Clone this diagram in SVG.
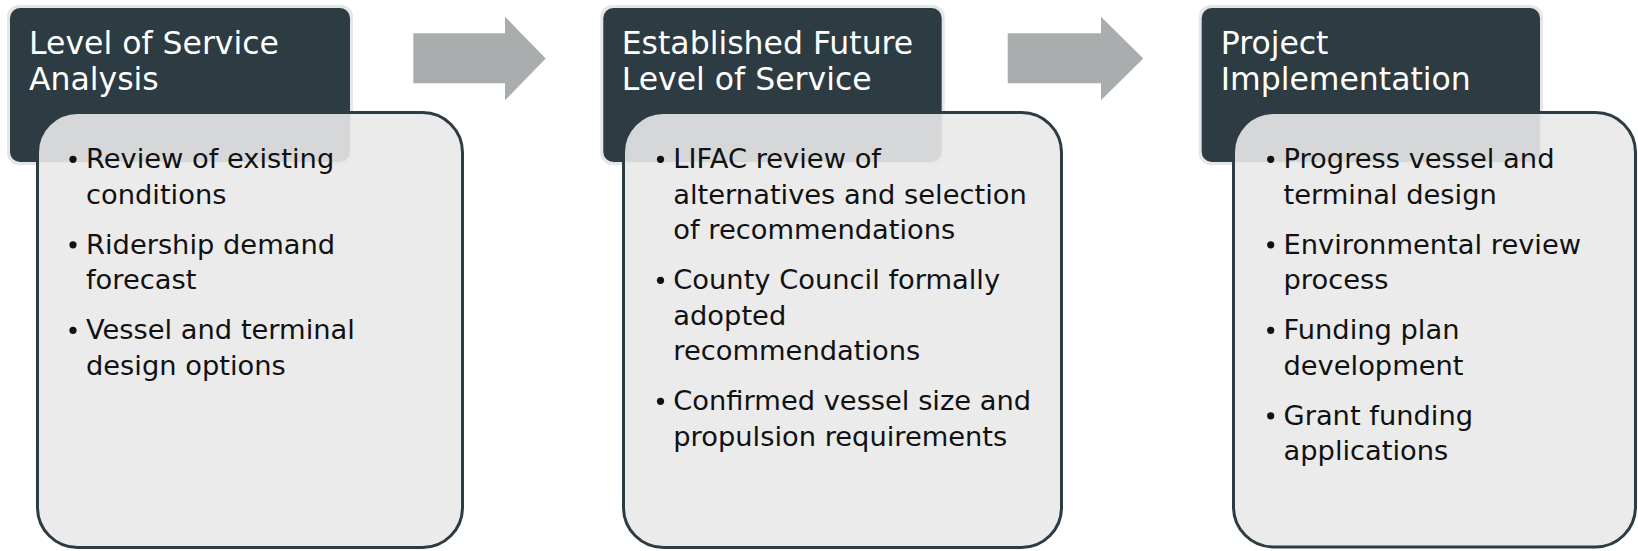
<svg xmlns="http://www.w3.org/2000/svg" width="1638" height="551" viewBox="0 0 1638 551">
  <style>
    .halo { fill: #e4e6e7; }
    .head { fill: #2d3b42; }
    .htxt { fill: #ffffff; font-family: "DejaVu Sans", "Liberation Sans", sans-serif; font-size: 31.5px; }
    .body { fill: #e9e9e9; fill-opacity: 0.9; stroke: #2d3b42; stroke-width: 3; }
    .btxt { fill: #111111; font-family: "DejaVu Sans", "Liberation Sans", sans-serif; font-size: 27.3px; }
    .dot { fill: #111111; }
    .arrow { fill: #aaadae; }
  </style>
  <rect width="1638" height="551" fill="#ffffff"/>

  <g id="node1">
    <rect class="halo" x="7" y="5" width="346" height="160" rx="12"/>
    <rect class="head" x="10" y="8" width="340" height="154" rx="10"/>
    <text class="htxt" x="29" y="54">Level of Service</text>
    <text class="htxt" x="29" y="90">Analysis</text>
    <rect class="body" x="37.5" y="112.5" width="425" height="435" rx="40"/>
    <circle class="dot" cx="73" cy="159.3" r="3.6"/>
    <text class="btxt" x="86" y="168">Review of existing</text>
    <text class="btxt" x="86" y="203.5">conditions</text>
    <circle class="dot" cx="73" cy="244.8" r="3.6"/>
    <text class="btxt" x="86" y="253.5">Ridership demand</text>
    <text class="btxt" x="86" y="289">forecast</text>
    <circle class="dot" cx="73" cy="330.3" r="3.6"/>
    <text class="btxt" x="86" y="339">Vessel and terminal</text>
    <text class="btxt" x="86" y="374.5">design options</text>
  </g>

  <g id="node2">
    <rect class="halo" x="600.3" y="5" width="344.4" height="160" rx="12"/>
    <rect class="head" x="603.3" y="8" width="338.4" height="154" rx="10"/>
    <text class="htxt" x="621.7" y="54">Established Future</text>
    <text class="htxt" x="621.7" y="90">Level of Service</text>
    <rect class="body" x="623.5" y="112.5" width="438" height="435" rx="40"/>
    <circle class="dot" cx="660.5" cy="159.3" r="3.6"/>
    <text class="btxt" x="673.3" y="168">LIFAC review of</text>
    <text class="btxt" x="673.3" y="203.5">alternatives and selection</text>
    <text class="btxt" x="673.3" y="239">of recommendations</text>
    <circle class="dot" cx="660.5" cy="280.3" r="3.6"/>
    <text class="btxt" x="673.3" y="289">County Council formally</text>
    <text class="btxt" x="673.3" y="324.5">adopted</text>
    <text class="btxt" x="673.3" y="360">recommendations</text>
    <circle class="dot" cx="660.5" cy="401.3" r="3.6"/>
    <text class="btxt" x="673.3" y="410">Confirmed vessel size and</text>
    <text class="btxt" x="673.3" y="445.5">propulsion requirements</text>
  </g>

  <g id="node3">
    <rect class="halo" x="1198.7" y="5" width="344.3" height="160" rx="12"/>
    <rect class="head" x="1201.7" y="8" width="338.3" height="154" rx="10"/>
    <text class="htxt" x="1220.7" y="54">Project</text>
    <text class="htxt" x="1220.7" y="90">Implementation</text>
    <rect class="body" x="1233.5" y="112.5" width="402" height="434.5" rx="40"/>
    <circle class="dot" cx="1270.7" cy="159.3" r="3.6"/>
    <text class="btxt" x="1283.5" y="168">Progress vessel and</text>
    <text class="btxt" x="1283.5" y="203.5">terminal design</text>
    <circle class="dot" cx="1270.7" cy="244.8" r="3.6"/>
    <text class="btxt" x="1283.5" y="253.5">Environmental review</text>
    <text class="btxt" x="1283.5" y="289">process</text>
    <circle class="dot" cx="1270.7" cy="330.3" r="3.6"/>
    <text class="btxt" x="1283.5" y="339">Funding plan</text>
    <text class="btxt" x="1283.5" y="374.5">development</text>
    <circle class="dot" cx="1270.7" cy="415.8" r="3.6"/>
    <text class="btxt" x="1283.5" y="424.5">Grant funding</text>
    <text class="btxt" x="1283.5" y="460">applications</text>
  </g>

  <g id="connectors">
    <polygon class="arrow" points="413.3,33.3 505,33.3 505,16.7 545.7,58.5 505,100.3 505,83.3 413.3,83.3"/>
    <polygon class="arrow" points="1007.7,33.3 1101,33.3 1101,16.7 1143.3,58.5 1101,100.3 1101,83.3 1007.7,83.3"/>
  </g>
</svg>
